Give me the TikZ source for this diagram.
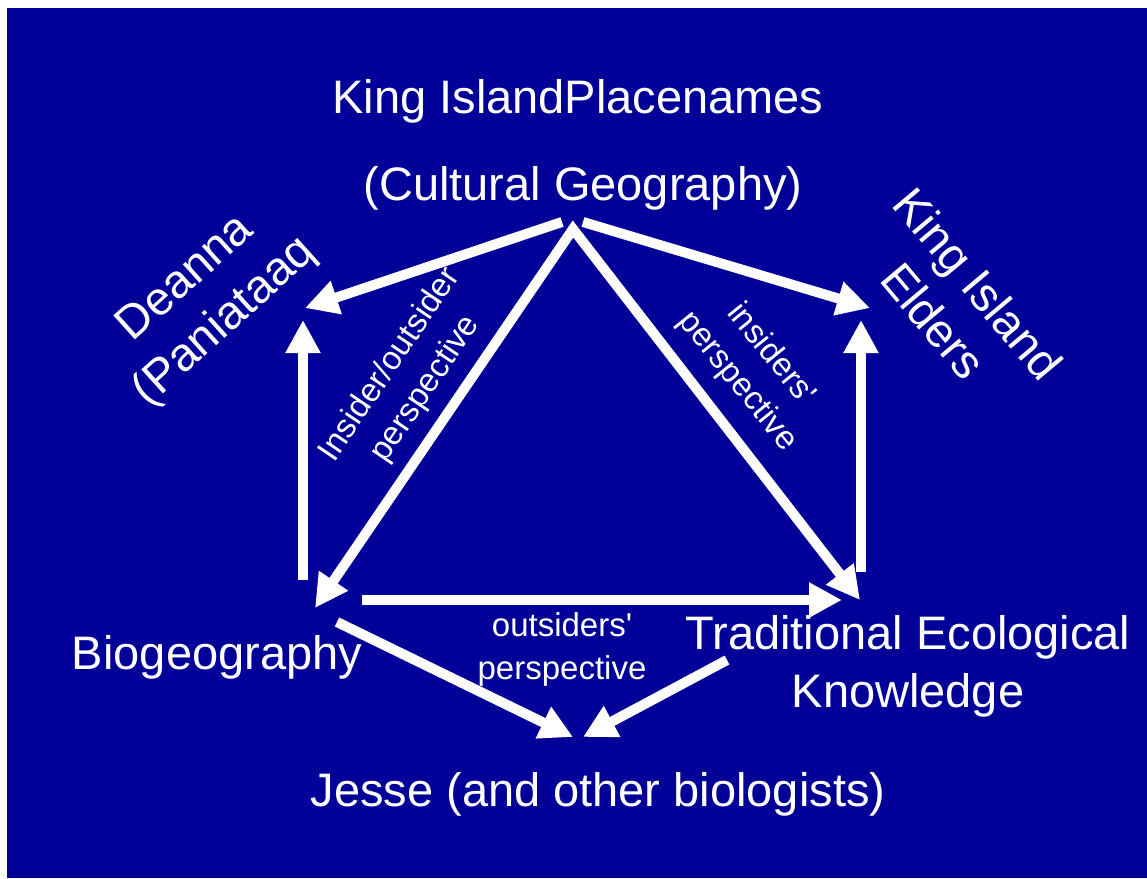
\documentclass[tikz,border=0pt]{standalone}
\usepackage{fontspec}
\setmainfont{Liberation Sans}
\usetikzlibrary{arrows.meta}
\definecolor{slideblue}{RGB}{0,0,153}
\begin{document}
\begin{tikzpicture}[x=1pt,y=-1pt,
  >={Triangle[length=33pt,width=33pt]},
  lbl/.style={text=white, font=\fontsize{47}{58}\selectfont, inner sep=0pt, align=center},
  small/.style={text=white, font=\fontsize{33}{43}\selectfont, inner sep=0pt, align=center},
  link/.style={draw=white, line width=10pt, line join=miter},
]
% page and slide background
\fill[white] (0,0) rectangle (1147,878);
\fill[slideblue] (7,8) rectangle (1147,878);
\useasboundingbox (0,0) rectangle (1147,878);

% labels
\node[lbl, anchor=base] (kip) at (578,113) {King IslandPlacenames};
\node[lbl, anchor=base] (cg) at (583,200) {(Cultural Geography)};
\node[lbl, rotate=42] (deanna) at (206,301) {Deanna\\(Paniataaq};
\node[lbl, rotate=-50] (elders) at (956,302) {King Island\\Elders};
\node[lbl, anchor=base] (bio) at (217,669) {Biogeography};
\node[lbl] (tek) at (908,666) {Traditional Ecological\\Knowledge};
\node[lbl, anchor=base] (jesse) at (598,806) {Jesse (and other biologists)};
\node[small] (outp) at (562,649) {outsiders\textquotesingle\\perspective};
\node[small, rotate=56] (insout) at (408,377) {Insider/outsider\\perspective};
\node[small, rotate=-51] (insp) at (754,368) {insiders\textquotesingle\\perspective};

% connector ends
\coordinate (hub) at (573,229);
\coordinate (hubL) at (562,222);
\coordinate (hubR) at (583,222);
\coordinate (deannaIn) at (305,308);
\coordinate (eldersIn) at (870,308);
\coordinate (bioTop) at (303,580);
\coordinate (deannaUp) at (303,320);
\coordinate (tekTop) at (861,572);
\coordinate (eldersUp) at (861,320);
\coordinate (bioTip) at (315,608);
\coordinate (tekTip) at (860,600);
\coordinate (bioRight) at (362,600);
\coordinate (tekLeft) at (842,600);
\coordinate (bioLow) at (337,622);
\coordinate (tekLow) at (727,660);
\coordinate (jesseL) at (573,737);
\coordinate (jesseR) at (583,737);

% connectors
\draw[link,->] (hubL) -- (deannaIn);
\draw[link,->] (hubR) -- (eldersIn);
\draw[link,<->] (bioTip) -- (hub) -- (tekTip);
\draw[link,->] (bioTop) -- (deannaUp);
\draw[link,->] (tekTop) -- (eldersUp);
\draw[link,->] (bioRight) -- (tekLeft);
\draw[link,->] (bioLow) -- (jesseL);
\draw[link,->] (tekLow) -- (jesseR);
\end{tikzpicture}
\end{document}
